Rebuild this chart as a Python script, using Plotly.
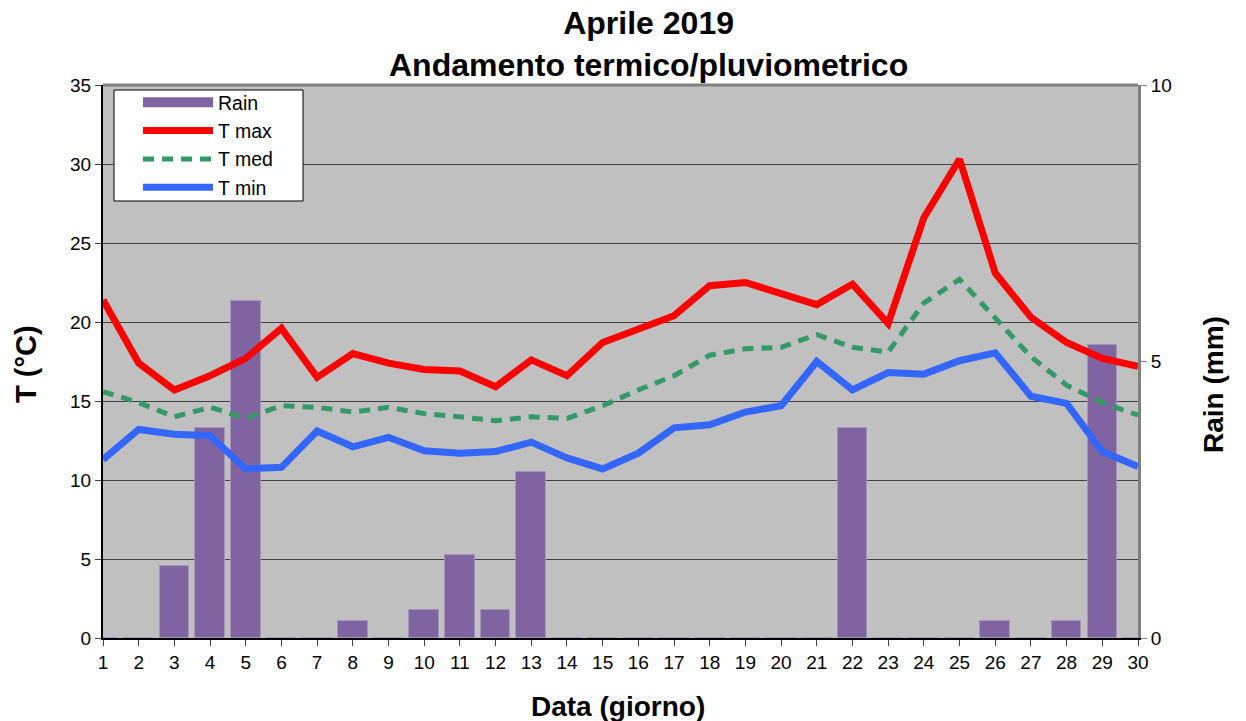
import plotly.graph_objects as go

days = list(range(1, 31))
rain = [0, 0, 1.3, 3.8, 6.1, 0, 0, 0.3, 0, 0.5, 1.5, 0.5, 3.0, 0, 0,
        0, 0, 0, 0, 0, 0, 3.8, 0, 0, 0, 0.3, 0, 0.3, 5.3, 0]
t_max = [21.4, 17.4, 15.7, 16.6, 17.7, 19.6, 16.5, 18.0, 17.4, 17.0,
         16.9, 15.9, 17.6, 16.6, 18.7, 19.5, 20.4, 22.3, 22.5, 21.8,
         21.1, 22.4, 19.9, 26.6, 30.3, 23.1, 20.3, 18.7, 17.7, 17.2]
t_med = [15.6, 14.9, 14.0, 14.6, 13.9, 14.7, 14.6, 14.3, 14.6, 14.2,
         14.0, 13.75, 14.0, 13.9, 14.7, 15.7, 16.6, 17.9, 18.3, 18.4,
         19.2, 18.4, 18.1, 21.2, 22.7, 20.3, 17.8, 16.0, 14.9, 14.1]
t_min = [11.3, 13.2, 12.9, 12.8, 10.7, 10.8, 13.1, 12.1, 12.7, 11.85,
         11.7, 11.8, 12.4, 11.4, 10.7, 11.7, 13.3, 13.5, 14.3, 14.7,
         17.5, 15.7, 16.8, 16.7, 17.55, 18.05, 15.3, 14.85, 11.8, 10.85]
t_ticks = [0, 5, 10, 15, 20, 25, 30, 35]
rain_ticks = [0, 5, 10]

FONT = "Arial, Liberation Sans, sans-serif"
PW, PH, L, T = 1035, 553, 103, 85


def px(x):
    return (x - L) / PW


def py(y):
    return (T + PH - y) / PH


fig = go.Figure()
# legend proxy for the rain bars (wide bar-like swatch)
fig.add_trace(go.Scatter(x=[None], y=[None], name="Rain", mode="lines",
                         line=dict(color="#8064A2", width=11), yaxis="y"))
fig.add_trace(go.Bar(x=days, y=rain, name="Rain", width=0.83, showlegend=False,
                     marker=dict(color="#8064A2", line=dict(color="#A396BD", width=1)),
                     yaxis="y"))
fig.add_trace(go.Scatter(x=days, y=t_max, name="T max", mode="lines",
                         line=dict(color="#FF0000", width=7), yaxis="y2"))
fig.add_trace(go.Scatter(x=days, y=t_med, name="T med", mode="lines",
                         line=dict(color="#339966", width=5, dash="11px,8px"), yaxis="y2"))
fig.add_trace(go.Scatter(x=days, y=t_min, name="T min", mode="lines",
                         line=dict(color="#3366FF", width=7), yaxis="y2"))

fig.update_layout(
    width=1246, height=721,
    margin=dict(l=103, r=108, t=85, b=83),
    paper_bgcolor="white", plot_bgcolor="#C0C0C0",
    font=dict(family=FONT, color="black", size=19),
    showlegend=True,
    legend=dict(x=px(138), y=py(83), xanchor="left", yanchor="top",
                bgcolor="rgba(0,0,0,0)", borderwidth=0,
                font=dict(size=19.5, family=FONT), itemwidth=70, tracegroupgap=0),
    bargap=0,
    xaxis=dict(range=[1, 30], tickmode="array", tickvals=days, ticktext=[str(d) for d in days],
               showgrid=False, zeroline=False, showline=True, linecolor="black", linewidth=2,
               ticks="outside", ticklen=6, tickcolor="#404040", tickfont=dict(size=19)),
    yaxis=dict(range=[0, 10], side="right", tickmode="array", tickvals=rain_ticks,
               showgrid=False, zeroline=False, showline=True, linecolor="#808080", linewidth=3,
               ticks="outside", ticklen=6, tickcolor="#808080", tickfont=dict(size=19)),
    yaxis2=dict(range=[0, 35], side="left", overlaying="y", tickmode="array", tickvals=t_ticks,
                showgrid=True, gridcolor="#404040", gridwidth=1, zeroline=False,
                showline=True, linecolor="black", linewidth=2,
                ticks="outside", ticklen=6, tickcolor="#404040", tickfont=dict(size=19)),
    shapes=[
        dict(type="line", xref="paper", yref="paper", x0=0, x1=1, y0=1, y1=1,
             line=dict(color="#808080", width=3), layer="above"),
        dict(type="rect", xref="paper", yref="paper", x0=px(114), x1=px(303),
             y0=py(201), y1=py(90), fillcolor="white",
             line=dict(color="black", width=1), layer="above"),
    ],
    annotations=[
        dict(text="<b>Aprile 2019<br>Andamento termico/pluviometrico</b>",
             xref="paper", yref="paper", x=px(648), y=py(44),
             xanchor="center", yanchor="middle", showarrow=False,
             font=dict(size=32, family=FONT)),
        dict(text="<b>T (°C)</b>", xref="paper", yref="paper", x=px(26),
             y=py(364), xanchor="center", yanchor="middle", textangle=-90,
             showarrow=False, font=dict(size=29, family=FONT)),
        dict(text="<b>Rain (mm)</b>", xref="paper", yref="paper", x=px(1213),
             y=py(385), xanchor="center", yanchor="middle", textangle=-90,
             showarrow=False, font=dict(size=28, family=FONT)),
        dict(text="<b>Data (giorno)</b>", xref="paper", yref="paper", x=px(618),
             y=py(706), xanchor="center", yanchor="middle",
             showarrow=False, font=dict(size=28, family=FONT)),
    ],
)

fig.write_html("out.html", config={"displayModeBar": False},
               post_script="document.body.style.margin='0';")
